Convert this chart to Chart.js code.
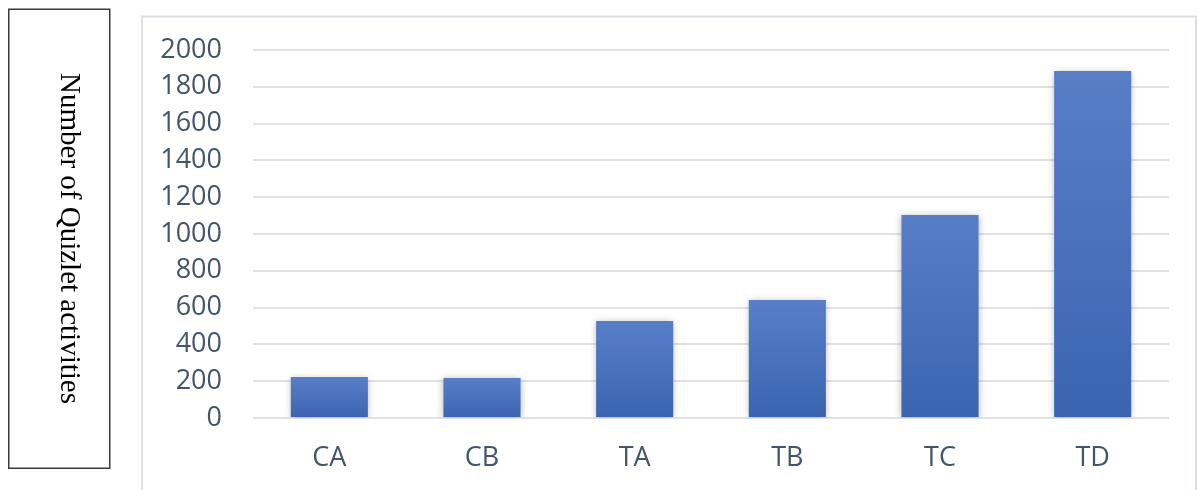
<!DOCTYPE html>
<html>
<head>
<meta charset="utf-8">
<script src="https://cdn.jsdelivr.net/npm/chart.js@4.4.1/dist/chart.umd.min.js"></script>
<style>
html,body{margin:0;padding:0;background:#fff;}
#wrap{position:relative;width:1197px;height:490px;}
</style>
</head>
<body>
<div id="wrap"><canvas id="c" width="1197" height="490"></canvas></div>
<script>
const categories = ['CA', 'CB', 'TA', 'TB', 'TC', 'TD'];
const activities = [223, 217, 527, 641, 1103, 1886];
const yTicks = [0, 200, 400, 600, 800, 1000, 1200, 1400, 1600, 1800, 2000];
const yTitle = 'Number of Quizlet activities';

const labelColor = '#44546a';
const labelFont = { family: '"Open Sans", "Liberation Sans", sans-serif', size: 27 };

const framePlugin = {
  id: 'frame',
  beforeDraw(chart) {
    const ctx = chart.ctx;
    ctx.save();
    ctx.fillStyle = '#ffffff';
    ctx.fillRect(0, 0, chart.width, chart.height);
    // outer chart border
    ctx.strokeStyle = '#dde1e7';
    ctx.lineWidth = 2;
    ctx.beginPath();
    ctx.moveTo(142, 495);
    ctx.lineTo(142, 16.5);
    ctx.lineTo(1196, 16.5);
    ctx.lineTo(1196, 495);
    ctx.stroke();
    // title box
    ctx.strokeStyle = '#3a3a3a';
    ctx.lineWidth = 1.5;
    ctx.strokeRect(8.75, 9.25, 101, 459);
    // rotated title
    ctx.translate(61, 238.5);
    ctx.rotate(Math.PI / 2);
    ctx.fillStyle = '#000000';
    ctx.font = '29px "Liberation Serif", "Times New Roman", serif';
    ctx.textAlign = 'center';
    ctx.textBaseline = 'alphabetic';
    ctx.fillText(yTitle, 0, 0);
    ctx.restore();
  },
  beforeDatasetsDraw(chart) {
    const ctx = chart.ctx;
    ctx.save();
    ctx.shadowColor = 'rgba(0,0,0,0.28)';
    ctx.shadowBlur = 7;
    ctx.shadowOffsetX = 0;
    ctx.shadowOffsetY = 1;
  },
  afterDatasetsDraw(chart) {
    chart.ctx.restore();
  }
};

function barGradient(context) {
  const chart = context.chart;
  const ys = chart.scales.y;
  if (!ys || context.type !== 'data') return '#4a72bd';
  const v = context.raw;
  const top = ys.getPixelForValue(v);
  const bottom = ys.getPixelForValue(0);
  if (!isFinite(top) || !isFinite(bottom) || top === bottom) return '#4a72bd';
  const g = chart.ctx.createLinearGradient(0, top, 0, bottom);
  g.addColorStop(0, '#587ec8');
  g.addColorStop(1, '#3b64b0');
  return g;
}

new Chart(document.getElementById('c'), {
  type: 'bar',
  data: {
    labels: categories,
    datasets: [{
      data: activities,
      backgroundColor: barGradient,
      borderWidth: 0,
      categoryPercentage: 1.0,
      barPercentage: 0.505
    }]
  },
  options: {
    responsive: false,
    animation: false,
    devicePixelRatio: 1,
    layout: { padding: { top: 50, right: 28, left: 0, bottom: 0 } },
    plugins: { legend: { display: false }, tooltip: { enabled: false } },
    scales: {
      x: {
        grid: { display: false, drawTicks: false },
        border: { display: false },
        ticks: { color: labelColor, font: labelFont, padding: 24 },
        afterFit(scale) { scale.height = 72; }
      },
      y: {
        min: 0,
        max: 2000,
        afterBuildTicks(scale) { scale.ticks = yTicks.map(v => ({ value: v })); },
        grid: { color: '#dfe3e8', lineWidth: 2, drawTicks: false },
        border: { display: false },
        ticks: {
          color: labelColor, font: labelFont, padding: 31,
          callback: (value) => String(value)
        },
        afterFit(scale) { scale.width = 253; }
      }
    }
  },
  plugins: [framePlugin]
});
</script>
</body>
</html>
